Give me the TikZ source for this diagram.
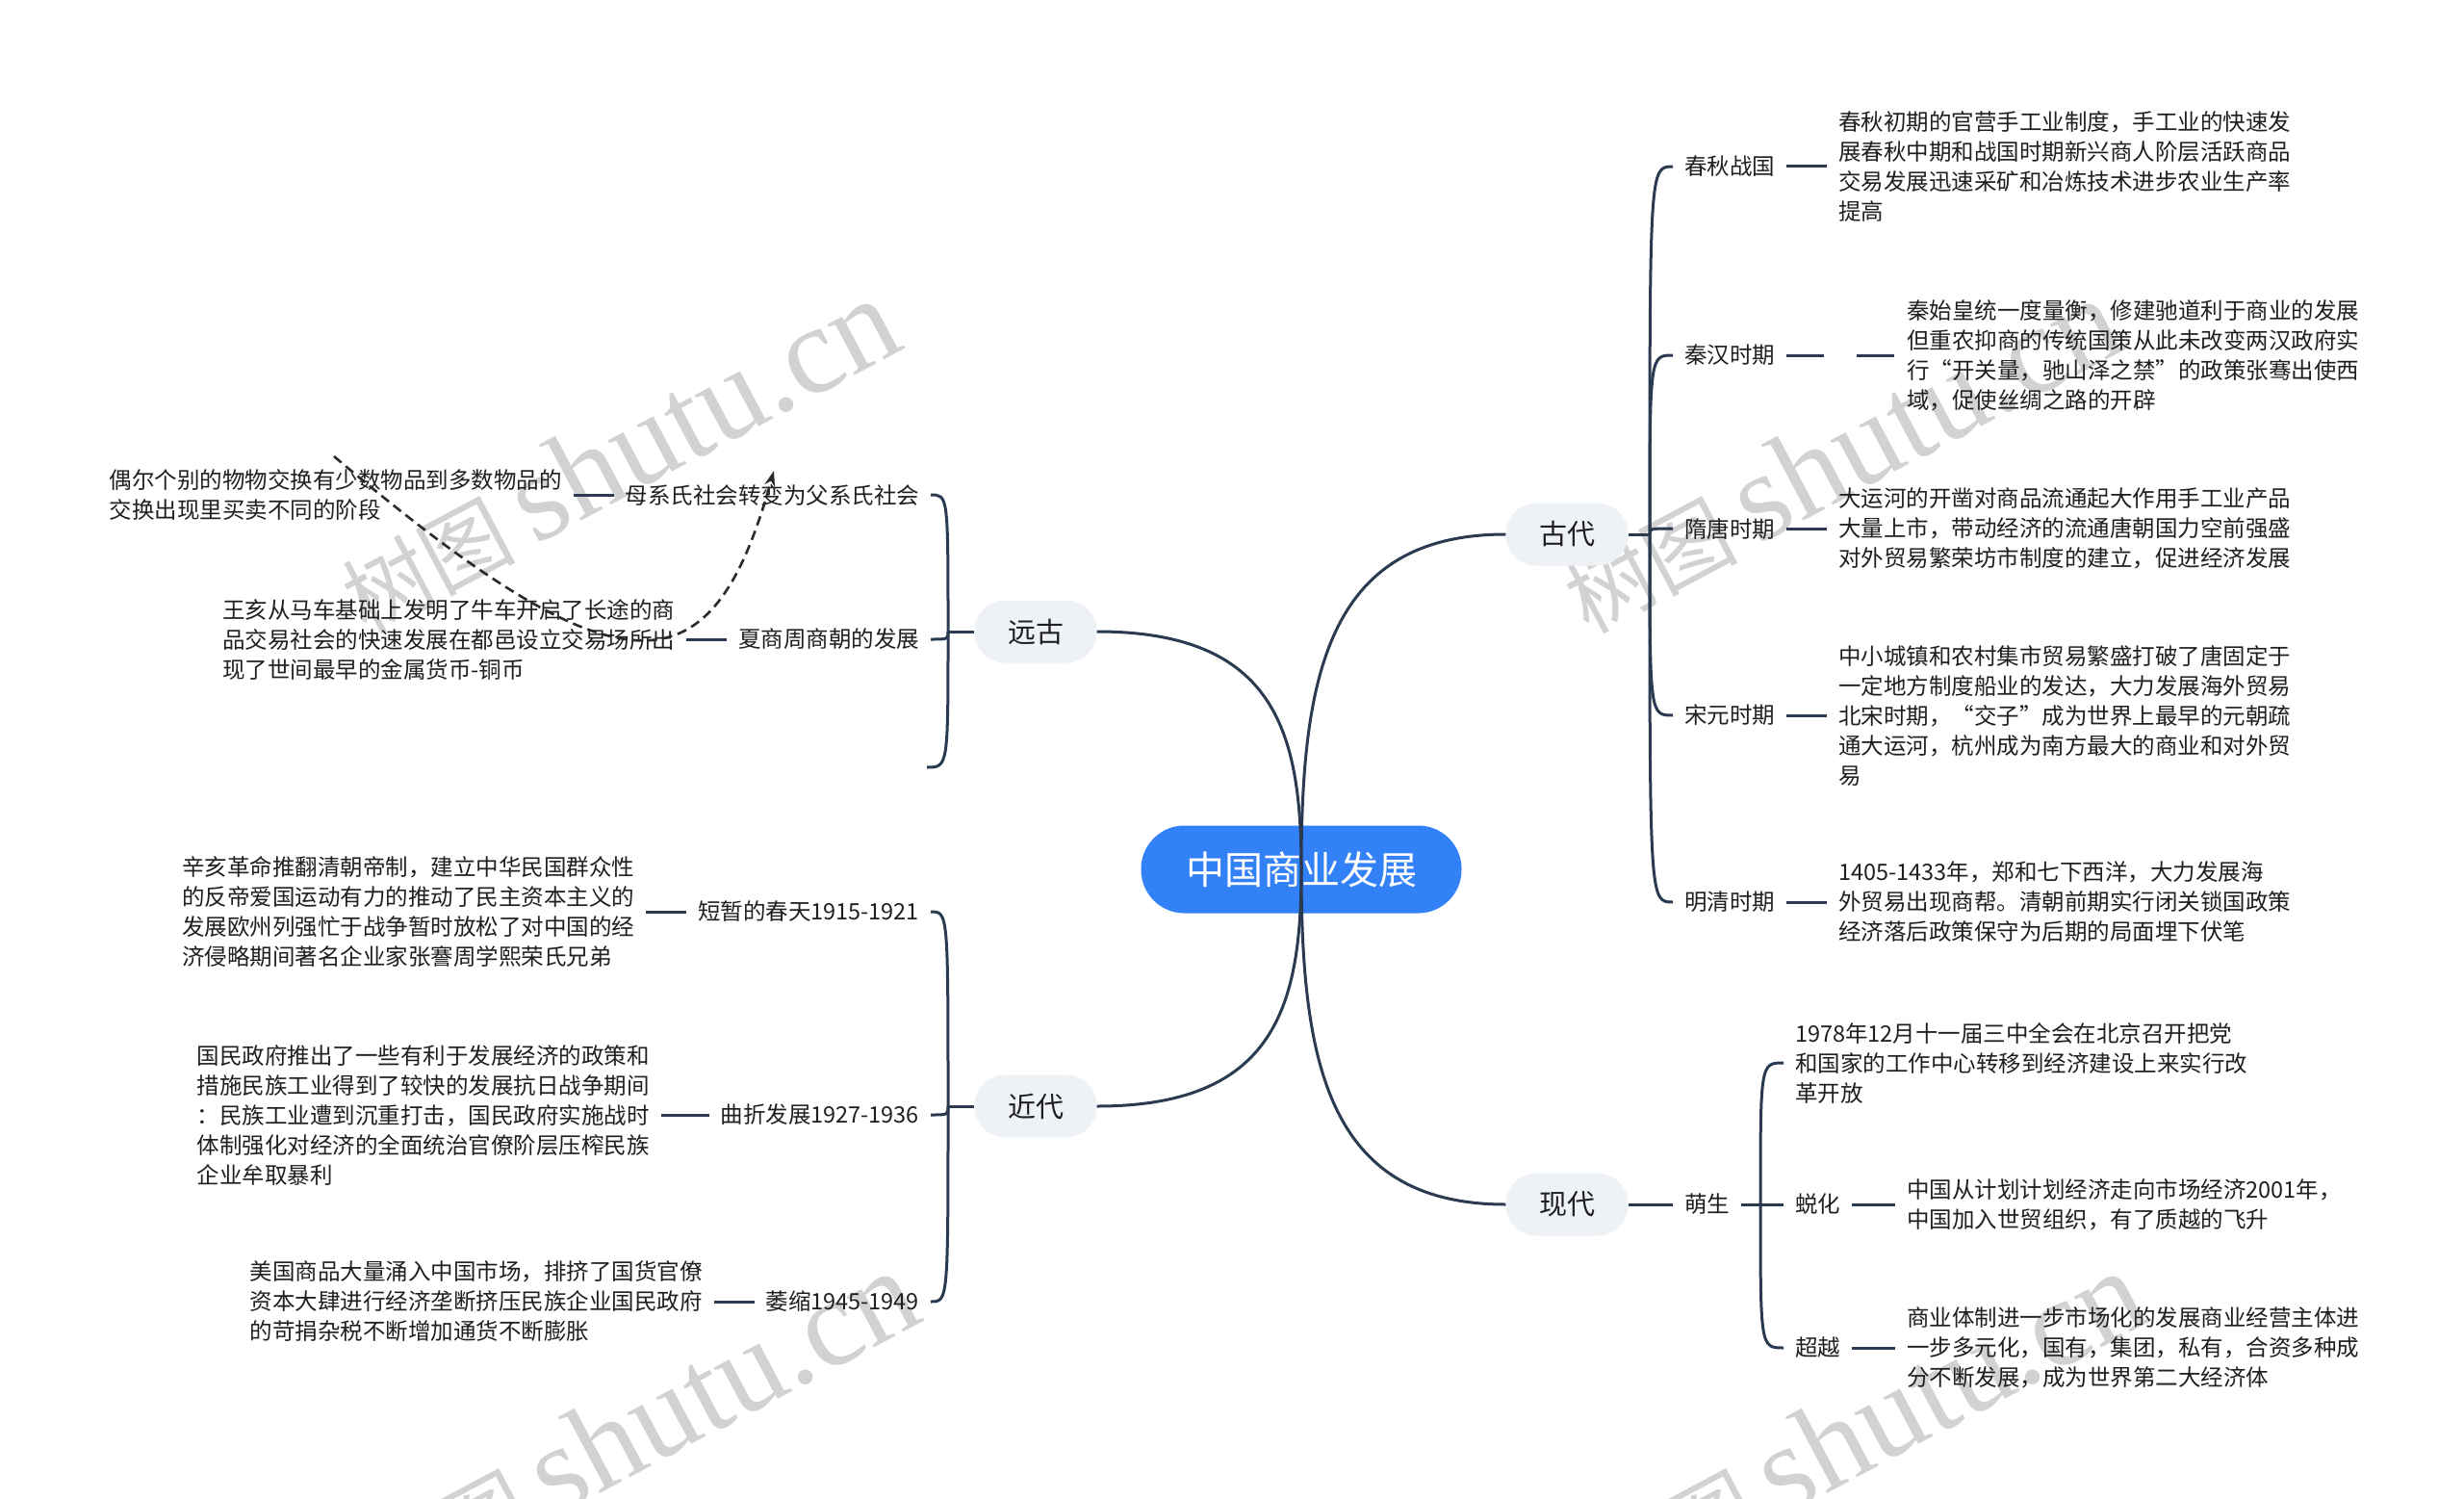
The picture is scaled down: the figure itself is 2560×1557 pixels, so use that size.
\documentclass[tikz,border=0pt]{standalone}
\usepackage{fontspec}
\setmainfont{Noto Sans CJK SC}
\newfontfamily\wmlat{Liberation Serif}
\usetikzlibrary{calc,arrows.meta}
\definecolor{rootblue}{HTML}{3381F6}
\definecolor{pill}{HTML}{EEF1F5}
\definecolor{linec}{HTML}{2A3A50}
\definecolor{txtc}{HTML}{1F1F1F}
\definecolor{relc}{HTML}{2A2A2A}
\definecolor{wmc}{HTML}{D2D2D2}
\tikzset{
  conn/.style={draw=linec, line width=3pt},
  lbl/.style={font=\fontsize{23.5pt}{31pt}\selectfont, text=txtc, inner xsep=12pt, inner ysep=3pt, align=left, outer sep=0pt},
  lvone/.style={fill=pill, rounded corners=32pt, minimum width=127pt, minimum height=65pt, inner sep=0pt, font=\fontsize{29pt}{35pt}\selectfont, text=txtc},
  rootnode/.style={fill=rootblue, rounded corners=45pt, minimum width=333pt, minimum height=91pt, inner sep=0pt, text=white, font=\fontsize{40pt}{48pt}\selectfont},
  rel/.style={draw=relc, line width=2.6pt, dash pattern=on 10pt off 6pt, -{Stealth[length=16pt,width=11pt]}},
  wm/.style={text=wmc, inner sep=0pt, rotate=28, anchor=base west},
}
\newcommand{\wmtext}{{\fontsize{90pt}{90pt}\selectfont 树图}\hspace{20pt}{\wmlat\fontsize{130pt}{130pt}\selectfont shutu.cn}}
\begin{document}
\begin{tikzpicture}[x=1pt,y=-1pt]
\useasboundingbox (0,0) rectangle (2560,1557);
\fill[white] (0,0) rectangle (2560,1557);
\clip (0,0) rectangle (2560,1557);

% watermarks
\node[wm] (wmA) at (380,660) {\wmtext};
\node[wm] (wmB) at (1650,660) {\wmtext};
\node[wm] (wmC) at (400,1670) {\wmtext};
\node[wm] (wmD) at (1675,1670) {\wmtext};

% root and main branches
\node[rootnode] (root) at (1352,903) {中国商业发展};
\node[lvone] (gd) at (1628,555) {古代};
\node[lvone] (xd) at (1628,1251) {现代};
\node[lvone] (yg) at (1076,656) {远古};
\node[lvone] (jd) at (1076,1149) {近代};

\coordinate (kgd) at (root.center |- gd.west);
\coordinate (kxd) at (root.center |- xd.west);
\coordinate (kyg) at (root.center |- yg.east);
\coordinate (kjd) at (root.center |- jd.east);

\draw[conn] (root.center) .. controls ($(root.center)!0.58!(kgd)$) and ($(gd.west)!0.87!(kgd)$) .. (gd.west);
\draw[conn] (root.center) .. controls ($(root.center)!0.58!(kxd)$) and ($(xd.west)!0.87!(kxd)$) .. (xd.west);
\draw[conn] (root.center) .. controls ($(root.center)!0.58!(kyg)$) and ($(yg.east)!0.87!(kyg)$) .. (yg.east);
\draw[conn] (root.center) .. controls ($(root.center)!0.58!(kjd)$) and ($(jd.east)!0.87!(kjd)$) .. (jd.east);

% ---------- 古代 ----------
\coordinate (J1) at (1714,555);
\node[lbl, anchor=west] (cq) at (1738,173) {春秋战国};
\node[lbl, anchor=west] (qh) at (1738,369) {秦汉时期};
\node[lbl, anchor=west] (st) at (1738,549) {隋唐时期};
\node[lbl, anchor=west] (sy) at (1738,743) {宋元时期};
\node[lbl, anchor=west] (mq) at (1738,937) {明清时期};

\node[lbl, anchor=west] (cqd) at ([xshift=42pt]cq.east) {春秋初期的官营手工业制度，手工业的快速发\\展春秋中期和战国时期新兴商人阶层活跃商品\\交易发展迅速采矿和冶炼技术进步农业生产率\\提高};
\node[lbl, anchor=west] (qhd) at ([xshift=113pt]qh.east) {秦始皇统一度量衡，修建驰道利于商业的发展\\但重农抑商的传统国策从此未改变两汉政府实\\行“开关量，驰山泽之禁”的政策张骞出使西\\域，促使丝绸之路的开辟};
\node[lbl, anchor=west] (std) at ([xshift=42pt]st.east) {大运河的开凿对商品流通起大作用手工业产品\\大量上市，带动经济的流通唐朝国力空前强盛\\对外贸易繁荣坊市制度的建立，促进经济发展};
\node[lbl, anchor=west] (syd) at ([xshift=42pt]sy.east) {中小城镇和农村集市贸易繁盛打破了唐固定于\\一定地方制度船业的发达，大力发展海外贸易\\北宋时期，“交子”成为世界上最早的元朝疏\\通大运河，杭州成为南方最大的商业和对外贸\\易};
\node[lbl, anchor=west] (mqd) at ([xshift=42pt]mq.east) {1405-1433年，郑和七下西洋，大力发展海\\外贸易出现商帮。清朝前期实行闭关锁国政策\\经济落后政策保守为后期的局面埋下伏笔};

\draw[conn] (gd.east) -- (J1);
\foreach \c in {cq,qh,st,sy,mq}{
  \draw[conn] (J1) .. controls (J1 |- \c.west) .. (\c.west);
}
\draw[conn] (cq.east) -- (cqd.west);
\draw[conn, dash pattern=on 39pt off 34pt] (qh.east) -- (qhd.west);
\draw[conn] (st.east) -- (std.west);
\draw[conn] (sy.east) -- (syd.west);
\draw[conn] (mq.east) -- (mqd.west);

% ---------- 现代 ----------
\coordinate (J2) at (1829,1251);
\node[lbl, anchor=west] (ms) at (1738,1251) {萌生};
\node[lbl, anchor=west] (m1) at (1853,1104) {1978年12月十一届三中全会在北京召开把党\\和国家的工作中心转移到经济建设上来实行改\\革开放};
\node[lbl, anchor=west] (th) at (1853,1251) {蜕化};
\node[lbl, anchor=west] (cy) at (1853,1400) {超越};
\node[lbl, anchor=west] (thd) at ([xshift=45pt]th.east) {中国从计划计划经济走向市场经济2001年，\\中国加入世贸组织，有了质越的飞升};
\node[lbl, anchor=west] (cyd) at ([xshift=45pt]cy.east) {商业体制进一步市场化的发展商业经营主体进\\一步多元化，国有，集团，私有，合资多种成\\分不断发展，成为世界第二大经济体};

\draw[conn] (xd.east) -- (ms.west);
\draw[conn] (ms.east) -- (J2);
\draw[conn] (J2) .. controls (J2 |- m1.west) .. (m1.west);
\draw[conn] (J2) -- (th.west);
\draw[conn] (J2) .. controls (J2 |- cy.west) .. (cy.west);
\draw[conn] (th.east) -- (thd.west);
\draw[conn] (cy.east) -- (cyd.west);

% ---------- 远古 ----------
\coordinate (J3) at (985,656);
\node[lbl, anchor=east] (mx) at (967,514) {母系氏社会转变为父系氏社会};
\node[lbl, anchor=east] (xs) at (967,664) {夏商周商朝的发展};
\coordinate (yg3) at (963,797);
\node[lbl, anchor=east] (mxd) at ([xshift=-42pt]mx.west) {偶尔个别的物物交换有少数物品到多数物品的\\交换出现里买卖不同的阶段};
\node[lbl, anchor=east] (xsd) at ([xshift=-42pt]xs.west) {王亥从马车基础上发明了牛车开启了长途的商\\品交易社会的快速发展在都邑设立交易场所出\\现了世间最早的金属货币-铜币};

\draw[conn] (yg.west) -- (J3);
\draw[conn] (J3) .. controls (J3 |- mx.east) .. (mx.east);
\draw[conn] (J3) .. controls (J3 |- xs.east) .. (xs.east);
\draw[conn] (J3) .. controls (J3 |- yg3) .. (yg3);
\draw[conn] (mx.west) -- (mxd.east);
\draw[conn] (xs.west) -- (xsd.east);

% ---------- 近代 ----------
\coordinate (J4) at (985,1149);
\node[lbl, anchor=east] (dz) at (967,947) {短暂的春天1915-1921};
\node[lbl, anchor=east] (qz) at (967,1158) {曲折发展1927-1936};
\node[lbl, anchor=east] (ws) at (967,1352) {萎缩1945-1949};
\node[lbl, anchor=east] (dzd) at ([xshift=-42pt]dz.west) {辛亥革命推翻清朝帝制，建立中华民国群众性\\的反帝爱国运动有力的推动了民主资本主义的\\发展欧州列强忙于战争暂时放松了对中国的经\\济侵略期间著名企业家张謇周学熙荣氏兄弟};
\node[lbl, anchor=east] (qzd) at ([xshift=-50pt]qz.west) {国民政府推出了一些有利于发展经济的政策和\\措施民族工业得到了较快的发展抗日战争期间\\：民族工业遭到沉重打击，国民政府实施战时\\体制强化对经济的全面统治官僚阶层压榨民族\\企业牟取暴利};
\node[lbl, anchor=east] (wsd) at ([xshift=-42pt]ws.west) {美国商品大量涌入中国市场，排挤了国货官僚\\资本大肆进行经济垄断挤压民族企业国民政府\\的苛捐杂税不断增加通货不断膨胀};

\draw[conn] (jd.west) -- (J4);
\draw[conn] (J4) .. controls (J4 |- dz.east) .. (dz.east);
\draw[conn] (J4) .. controls (J4 |- qz.east) .. (qz.east);
\draw[conn] (J4) .. controls (J4 |- ws.east) .. (ws.east);
\draw[conn] (dz.west) -- (dzd.east);
\draw[conn] (qz.west) -- (qzd.east);
\draw[conn] (ws.west) -- (wsd.east);

% relationship arrow
\coordinate (r1) at (347,474);
\coordinate (r2) at (804,489);
\draw[rel] (r1) .. controls (650,730) and (740,720) .. (r2);
\end{tikzpicture}
\end{document}
